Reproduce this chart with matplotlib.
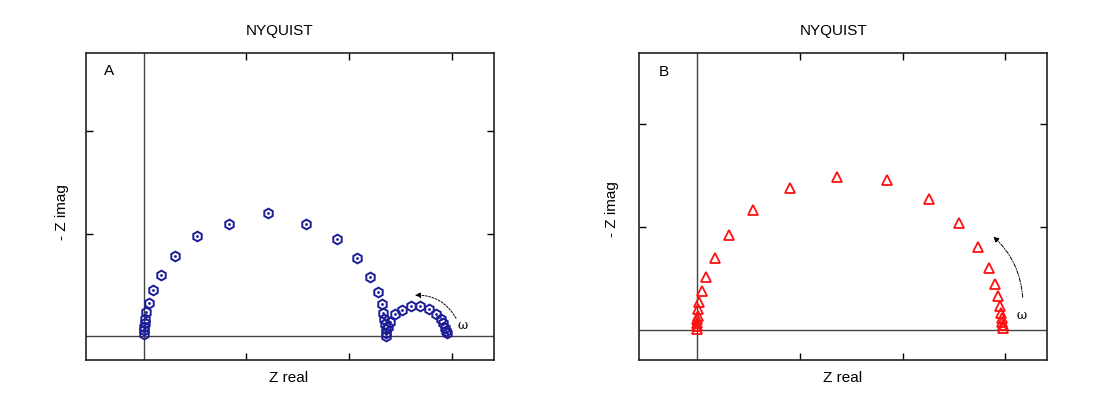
import matplotlib
matplotlib.use("Agg")
import matplotlib.pyplot as plt

plt.rcParams['font.family'] = ['Liberation Sans', 'DejaVu Sans']

# Panel A (two arcs)
a_real = [0.000, 0.000, 0.003, 0.010, 0.013, 0.022, 0.046, 0.088, 0.163, 0.302,
          0.514, 0.832, 1.210, 1.580, 1.880, 2.081, 2.208, 2.283, 2.319, 2.335,
          2.345, 2.351, 2.361, 2.364, 2.361,
          2.377, 2.400, 2.449, 2.514, 2.602, 2.693, 2.780, 2.849, 2.895, 2.920,
          2.937, 2.946, 2.953]
a_imag = [0.016, 0.059, 0.091, 0.124, 0.166, 0.235, 0.325, 0.447, 0.599, 0.785,
          0.977, 1.095, 1.202, 1.095, 0.951, 0.759, 0.579, 0.427, 0.313, 0.228,
          0.164, 0.114, 0.066, 0.027, 0.000,
          0.085, 0.140, 0.212, 0.257, 0.290, 0.293, 0.261, 0.218, 0.169, 0.124,
          0.078, 0.046, 0.026]

# Panel B (one arc)
b_real = [0.000, 0.000, 0.000, 0.000, 0.004, 0.010, 0.019, 0.046, 0.088, 0.169,
          0.309, 0.546, 0.907, 1.365, 1.846, 2.262, 2.554, 2.739, 2.843, 2.905,
          2.934, 2.950, 2.960, 2.967, 2.973, 2.977, 2.977]
b_imag = [0.007, 0.039, 0.071, 0.104, 0.136, 0.201, 0.275, 0.383, 0.519, 0.700,
          0.924, 1.164, 1.378, 1.488, 1.453, 1.274, 1.044, 0.804, 0.606, 0.444,
          0.331, 0.233, 0.169, 0.120, 0.081, 0.049, 0.017]

panel_labels = ['A', 'B']
title_text = 'NYQUIST'
xlabel_text = 'Z real'
ylabel_text = '- Z imag'
omega = '\u03c9'

fig = plt.figure(figsize=(10.94, 4.12), dpi=100)
axA = fig.add_axes([0.0783, 0.1262, 0.3733, 0.7452])
axB = fig.add_axes([0.5841, 0.1262, 0.3732, 0.7452])

axA.set_xlim(-0.569, 3.415)
axA.set_ylim(-0.235, 2.766)
axB.set_xlim(-0.568, 3.411)
axB.set_ylim(-0.292, 2.692)

for ax in (axA, axB):
    ax.axvline(0, color='#444444', lw=1.0, zorder=1)
    ax.axhline(0, color='#444444', lw=1.0, zorder=1)
    ax.set_xticks([1, 2, 3])
    ax.set_yticks([1, 2])
    ax.tick_params(direction='in', length=5, width=1, top=True, right=True,
                   labelbottom=False, labelleft=False, color='black')
    for s in ax.spines.values():
        s.set_linewidth(1.2)
        s.set_color('#222222')

axA.plot(a_real, a_imag, linestyle='none', marker='h', markersize=7,
         markerfacecolor='none', markeredgecolor='#1c1c96', markeredgewidth=1.4, zorder=3)
axA.plot(a_real, a_imag, linestyle='none', marker='.', markersize=2,
         color='#1c1c96', zorder=4)
axB.plot(b_real, b_imag, linestyle='none', marker='^', markersize=7,
         markerfacecolor='none', markeredgecolor='#ff1010', markeredgewidth=1.3, zorder=3)

axA.annotate('', xy=(2.644, 0.398), xytext=(3.044, 0.173),
             arrowprops=dict(arrowstyle='-|>', color='black', lw=0.7,
                             linestyle=(0, (2, 1.5)), connectionstyle='arc3,rad=0.3',
                             mutation_scale=8, shrinkA=0, shrinkB=0))
axA.text(3.109, 0.098, omega, family='DejaVu Serif', fontsize=9, ha='center', va='center')

axB.annotate('', xy=(2.885, 0.908), xytext=(3.171, 0.318),
             arrowprops=dict(arrowstyle='-|>', color='black', lw=0.7,
                             linestyle=(0, (4, 1.5, 1, 1.5)), connectionstyle='arc3,rad=0.2',
                             mutation_scale=8, shrinkA=0, shrinkB=0))
axB.text(3.165, 0.139, omega, family='DejaVu Serif', fontsize=9, ha='center', va='center')

axA.text(0.057, 0.942, panel_labels[0], transform=axA.transAxes, fontsize=11,
         ha='center', va='center')
axB.text(0.061, 0.939, panel_labels[1], transform=axB.transAxes, fontsize=11,
         ha='center', va='center')

fig.text(0.256, 0.925, title_text, fontsize=11, ha='center', va='center')
fig.text(0.762, 0.925, title_text, fontsize=11, ha='center', va='center')
fig.text(0.264, 0.0825, xlabel_text, fontsize=11, ha='center', va='center')
fig.text(0.770, 0.0825, xlabel_text, fontsize=11, ha='center', va='center')
fig.text(62 / 1094, 0.485, ylabel_text, fontsize=11, rotation=90, ha='center', va='center')
fig.text(612 / 1094, 0.493, ylabel_text, fontsize=11, rotation=90, ha='center', va='center')

fig.savefig('out.png', dpi=100, facecolor='white')
